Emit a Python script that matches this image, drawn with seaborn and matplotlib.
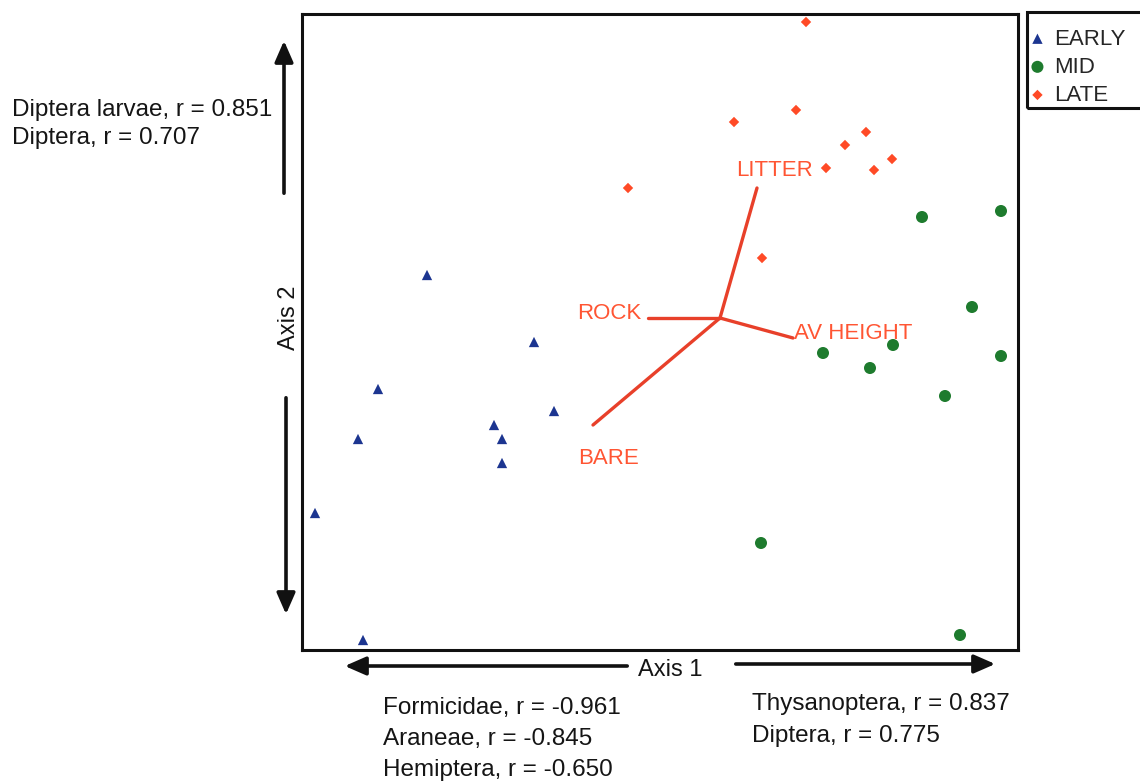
import matplotlib
matplotlib.use("Agg")
import matplotlib.pyplot as plt
import matplotlib.patches as mpatches
import seaborn as sns
import pandas as pd

# ------------------------------
# Ordination scores
# ------------------------------
early_x = [427, 534, 378, 554, 494, 502, 358, 502, 315, 363]
early_y = [275, 342, 389, 411, 425, 439, 439, 463, 513, 640]

mid_x = [922, 1001, 972, 1001, 823, 870, 945, 761, 960, 893]
mid_y = [217, 211, 307, 356, 353, 368, 396, 543, 635, 345]

late_x = [806, 796, 734, 866, 845, 892, 826, 874, 628, 762]
late_y = [22, 110, 122, 132, 145, 159, 168, 170, 188, 258]

# environmental vectors
vec_names = ["LITTER", "ROCK", "AV HEIGHT", "BARE"]
vec_origin = (720, 318)
vec_end_x = [757, 648, 793, 593]
vec_end_y = [188, 318, 338, 425]
vec_label_x = [774, 609, 853, 608]
vec_label_y = [171, 314, 334, 459]

groups = ["EARLY", "MID", "LATE"]
colors = {"EARLY": "#1c3590", "MID": "#1e7b2e", "LATE": "#ff4a26"}
markers = {"EARLY": "^", "MID": "o", "LATE": "D"}
sizes = {"EARLY": 55, "MID": 75, "LATE": 28}

df = pd.concat([
    pd.DataFrame({"x": early_x, "y": early_y, "group": "EARLY"}),
    pd.DataFrame({"x": mid_x, "y": mid_y, "group": "MID"}),
    pd.DataFrame({"x": late_x, "y": late_y, "group": "LATE"}),
])

sns.set_style("white")
plt.rcParams["font.family"] = ["Liberation Sans", "DejaVu Sans"]
txt_color = "#151515"

fig = plt.figure(figsize=(11.4, 7.81), dpi=100)
ax = fig.add_axes([302 / 1140, 131 / 781, 716 / 1140, 636 / 781])

for g in groups:
    sub = df[df["group"] == g]
    sns.scatterplot(data=sub, x="x", y="y", color=colors[g], marker=markers[g],
                    s=sizes[g], edgecolor="none", ax=ax, label=g, zorder=3)

# vectors
for name, ex, ey, lx, ly in zip(vec_names, vec_end_x, vec_end_y, vec_label_x, vec_label_y):
    ax.plot([vec_origin[0], ex], [vec_origin[1], ey], color="#e8402a", lw=2.4, zorder=2)
    ax.text(lx, ly, name, color="#ff5533", fontsize=16, ha="center", va="center", zorder=4)

ax.set_xlim(302, 1018)
ax.set_ylim(650, 14)
ax.set_xticks([])
ax.set_yticks([])
ax.set_xlabel("")
ax.set_ylabel("")
for sp in ax.spines.values():
    sp.set_color("#111111")
    sp.set_linewidth(2.2)

# axis arrows outside the box
arrow = dict(arrowstyle="-|>,head_length=0.8,head_width=0.35", color="#111111", lw=2.6,
             mutation_scale=16)
ax.annotate("", xy=(284, 38), xytext=(284, 196), arrowprops=arrow, annotation_clip=False)
ax.annotate("", xy=(286, 617), xytext=(286, 395), arrowprops=arrow, annotation_clip=False)
ax.annotate("", xy=(342, 666), xytext=(630, 666), arrowprops=arrow, annotation_clip=False)
ax.annotate("", xy=(998, 664), xytext=(733, 664), arrowprops=arrow, annotation_clip=False)
ax.text(289, 318, "Axis 2", rotation=90, fontsize=17, color=txt_color,
        ha="center", va="center", clip_on=False)
ax.text(670, 670, "Axis 1", fontsize=17, color=txt_color,
        ha="center", va="center", clip_on=False)

# species correlations
ax.text(12, 124, "Diptera larvae, r = 0.851\nDiptera, r = 0.707", fontsize=17.5,
        color=txt_color, ha="left", va="center", linespacing=1.32, clip_on=False)
ax.text(383, 739, "Formicidae, r = -0.961\nAraneae, r = -0.845\nHemiptera, r = -0.650",
        fontsize=17.5, color=txt_color, ha="left", va="center", linespacing=1.53,
        clip_on=False)
ax.text(752, 720, "Thysanoptera, r = 0.837\nDiptera, r = 0.775", fontsize=17.5,
        color=txt_color, ha="left", va="center", linespacing=1.53, clip_on=False)

# legend outside, framed box
ax.legend_.remove()
handles, labels = ax.get_legend_handles_labels()
fig.legend(handles, labels, loc="upper left", bbox_to_anchor=(1023 / 1140, 1 - 23 / 781),
           fontsize=16, frameon=False, handletextpad=0.33,
           handlelength=0.8, borderpad=0.25, labelspacing=0.32, borderaxespad=0)
fig.patches.append(mpatches.Rectangle((1027 / 1140, 1 - 108 / 781), 120 / 1140, 96 / 781,
                                      transform=fig.transFigure, fill=False,
                                      edgecolor="#111111", lw=2.2))

plt.savefig("out.png", dpi=100)
